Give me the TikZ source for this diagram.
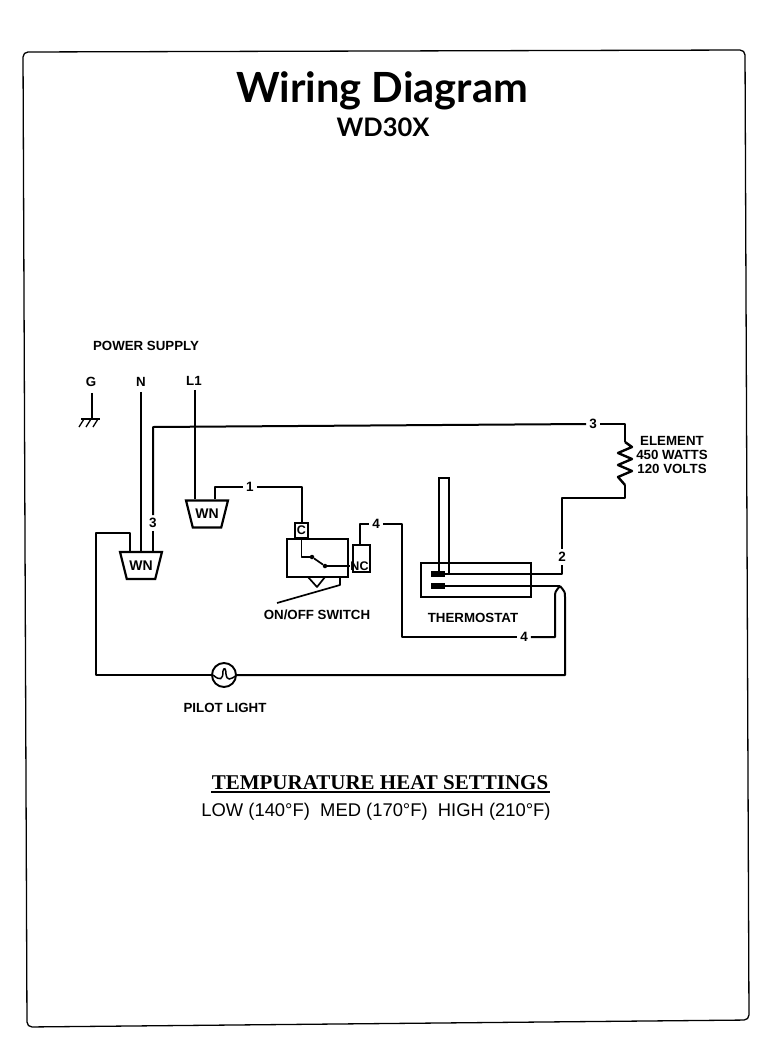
\documentclass[tikz,border=0pt]{standalone}
\usepackage{fontspec}
\setmainfont{Liberation Sans}
\newfontfamily\titlefont{Lato}
\newfontfamily\headfont{Liberation Serif}
\usetikzlibrary{shapes.geometric}
\tikzset{
  wire/.style={line width=2pt, line join=round},
  thin wire/.style={line width=1.7pt, line join=round},
  part label/.style={font=\fontsize{13.3}{14}\selectfont\bfseries, inner sep=0pt},
  wire label/.style={font=\fontsize{13.5}{14}\selectfont\bfseries, inner sep=3pt},
  wire nut/.style={draw, line width=2.2pt, shape=trapezium, shape border rotate=180, trapezium stretches=true,
    minimum width=42pt, minimum height=27pt, inner sep=0pt, font=\fontsize{14}{14}\selectfont\bfseries},
  term box/.style={draw, line width=1.8pt, inner sep=0pt},
  dot/.style={circle, fill=black, inner sep=0pt, minimum size=4.5pt},
}
\begin{document}
\begin{tikzpicture}[x=1pt, y=-1pt]
    \useasboundingbox (0,0) rectangle (768,1060);

    % Draw Frame
    \draw[line width=1.3pt, rounded corners=5pt] (23,52) -- (745,50) -- (749,1020) -- (27,1027) -- cycle;

    % Draw Titles
    \node[font=\titlefont\fontsize{41.6}{42}\selectfont\bfseries, inner sep=0pt] (title) at (382,91) {Wiring Diagram};
    \node[font=\titlefont\fontsize{25.5}{26}\selectfont\bfseries, inner sep=0pt] (model) at (383,127) {WD30X};

    % Draw Supply Labels
    \node[part label] (supply) at (146,346) {POWER SUPPLY};
    \node[part label] (g) at (91,382) {G};
    \node[part label] (n) at (141,382) {N};
    \node[part label] (l1) at (194,381) {L1};

    % Draw Ground
    \coordinate (gnd) at (92,419);
    \draw[thin wire] (g.south -| gnd) ++(0,6) -- (gnd);
    \draw[thin wire] (81,419) -- (100,419);
    \foreach \x in {84,91,98}{
      \draw[line width=1.3pt] (\x,419) -- (\x-5,427);
    }

    % Draw Wire Nuts
    \node[wire nut] (nut1) at (207,514) {WN};
    \node[wire nut] (nut2) at (141,565.5) {WN};

    % Draw Wire Labels
    \node[wire label] (w1) at (250,487) {1};
    \node[wire label] (w2) at (562,557) {2};
    \node[wire label] (w3a) at (153,523) {3};
    \node[wire label] (w3b) at (593,424) {3};
    \node[wire label] (w4a) at (376,524) {4};
    \node[wire label] (w4b) at (524,637) {4};

    % Draw Switch
    \node[term box, minimum width=61pt, minimum height=38pt] (switch) at (317.5,558) {};
    \node[term box, minimum width=13pt, minimum height=15pt, font=\fontsize{12.5}{12}\selectfont\bfseries] (com) at (301.5,530.5) {C};
    \node[term box, minimum width=17pt, minimum height=27pt] (nc) at (361.5,558.5) {};
    \node[font=\fontsize{12.5}{12}\selectfont\bfseries, inner sep=0pt] (nctext) at (359.5,566) {NC};
    \node[dot] (pivot) at (312,557) {};
    \node[dot] (contact) at (325,566) {};
    \draw[thin wire] (com.south) |- (pivot);
    \draw[thin wire] (pivot) -- (contact);
    \draw[thin wire] (contact) -- (nctext.west);
    \draw[thin wire] (308,577) -- (317,587) -- (325,577);
    \draw[thin wire] (277,603) -- (340,585) -- (340,577);

    % Draw Thermostat
    \node[term box, minimum width=110pt, minimum height=34pt] (stat) at (476,580) {};
    \node[term box, fill=black, minimum width=12pt, minimum height=4pt] (t1) at (438,574) {};
    \node[term box, fill=black, minimum width=12pt, minimum height=4pt] (t2) at (438,586) {};
    \draw[line width=1.7pt] (439,572) -- (439,478) -- (449,478) -- (449,573);
    \coordinate (peak) at (560,586);
    \draw[wire] (t1.east) -- (t1.east -| w2.south) -- (w2.south);
    \draw[wire] (t2.east) -- (peak);

    % Draw Pilot Light
    \node[draw, circle, line width=1.9pt, minimum size=24pt, inner sep=0pt] (lamp) at (224,675) {};
    \draw[line width=1.5pt] (lamp.west) ++(2,0) .. controls (220,681) and (223,680) .. (223,671)
      .. controls (224,667) and (226,668) .. (226,674) .. controls (227,681) and (230,680) .. (lamp.east);

    % Draw Element
    \coordinate (coil) at (625,442);
    \coordinate (coilend) at (625,485);
    \draw[wire] (w3b.east) -- (625,424) -- (coil);
    \draw[line width=2.4pt, line join=round] (coil) -- (632,447) -- (618,453) -- (632,459) -- (618,465) -- (632,471) -- (618,477) -- (coilend);
    \draw[wire] (coilend) |- (w2.north |- 0,498) -- (w2.north);

    % Draw Wires
    \draw[wire] (l1.south -| 195,0) ++(0,4) -- (195,499);
    \draw[wire] (n.south) ++(0,5) -- (n.south |- nut2.north);
    \draw[wire] (w3a.south) -- (w3a.south |- nut2.north);
    \draw[wire] (w3a.north) -- (153,427) -- (w3b.west);
    \draw[wire] (215,499) |- (w1.west);
    \draw[wire] (w1.east) -| (com.north);
    \draw[wire] (360,545) |- (w4a.west);
    \draw[wire] (w4a.east) -| (402,637) -- (w4b.west);
    \draw[wire] (w4b.east) -- (555,637) -- (555,597) .. controls (555,592) .. (peak);
    \draw[wire] (peak) .. controls (565,592) .. (565,597) -- (565,675) -- (lamp.east);
    \draw[wire] (lamp.west) -- (96,675) -- (96,533) -- (130,533) -- (130,552);

    % Draw Part Labels
    \node[part label] (selem) at (672,441) {ELEMENT};
    \node[part label] (swatt) at (672,455) {450 WATTS};
    \node[part label] (svolt) at (672,469) {120 VOLTS};
    \node[part label] (sswitch) at (317,615) {ON/OFF SWITCH};
    \node[part label] (sstat) at (473,618) {THERMOSTAT};
    \node[part label] (slamp) at (225,708) {PILOT LIGHT};

    % Draw Settings
    \node[font=\headfont\fontsize{21}{21}\selectfont\bfseries, inner sep=0pt] (heat) at (380,783) {TEMPURATURE HEAT SETTINGS};
    \draw[line width=1.6pt] (211,792) -- (550,792);
    \node[font=\fontsize{18.4}{19}\selectfont, inner sep=0pt] (temps) at (376,812) {LOW (140°F)\ \ MED (170°F)\ \ HIGH (210°F)};
\end{tikzpicture}
\end{document}
